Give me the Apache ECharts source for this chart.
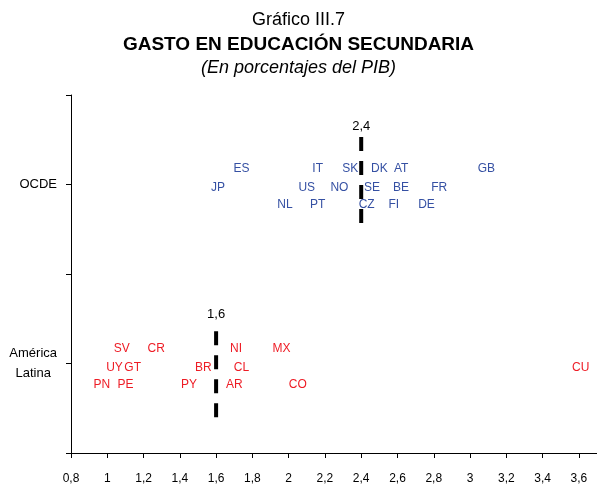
<!DOCTYPE html>
<html>
<head>
<meta charset="utf-8">
<script src="https://cdn.jsdelivr.net/npm/echarts@6/dist/echarts.min.js"></script>
<style>
html,body{margin:0;padding:0;background:#fff;}
#chart{width:597px;height:487px;}
</style>
</head>
<body>
<div id="chart"></div>
<script>
// ---- Data ----
const xTicks = [0.8, 1, 1.2, 1.4, 1.6, 1.8, 2, 2.2, 2.4, 2.6, 2.8, 3, 3.2, 3.4, 3.6];
const grupos = ['América Latina', 'OCDE'];
const grupoNivel = [1, 3];

const ocdePaises = ['ES','IT','SK','DK','AT','GB','JP','US','NO','SE','BE','FR','NL','PT','CZ','FI','DE'];
const ocdeGasto  = [1.74,2.16,2.34,2.50,2.62,3.09,1.61,2.10,2.28,2.46,2.62,2.83,1.98,2.16,2.43,2.58,2.76];
const ocdeFila   = [3.18,3.18,3.18,3.18,3.18,3.18,2.96,2.96,2.96,2.96,2.96,2.96,2.77,2.77,2.77,2.77,2.77];

const alPaises = ['SV','CR','NI','MX','UY','GT','BR','CL','CU','PN','PE','PY','AR','CO'];
const alGasto  = [1.08,1.27,1.71,1.96,1.04,1.14,1.53,1.74,3.61,0.97,1.10,1.45,1.70,2.05];
const alFila   = [1.17,1.17,1.17,1.17,0.95,0.95,0.95,0.95,0.95,0.76,0.76,0.76,0.76,0.76];

const promedios = [2.4, 1.6];            // OCDE, América Latina
const promedioTramo = [[3.53, 2.56], [1.36, 0.39]];
const promedioEtiquetaY = [3.65, 1.55];

// ---- Helpers ----
const fmt = v => String(+(+v).toFixed(1)).replace('.', ',');
const pts = (names, xs, ys) => names.map((n, i) => ({ name: n, value: [xs[i], ys[i]] }));

const FONT = 'Liberation Sans, Arial, Helvetica, sans-serif';
const BLUE = '#3550a3';
const RED = '#ee1c25';

const chart = echarts.init(document.getElementById('chart'), null, { renderer: 'canvas' });

const labelSeries = (names, xs, ys, color) => ({
  type: 'scatter',
  data: pts(names, xs, ys),
  symbolSize: 0,
  silent: true,
  itemStyle: { opacity: 1, color: color },
  label: {
    show: true, position: 'inside', formatter: '{b}',
    color: color, fontSize: 12, fontFamily: FONT, opacity: 1
  }
});

const promedioLines = promedios.map((p, i) => ({
  type: 'line',
  data: [[p, promedioTramo[i][0]], [p, promedioTramo[i][1]]],
  symbol: 'none',
  silent: true,
  lineStyle: { color: '#000', width: 4, type: [14, 10], cap: 'butt', opacity: 1 },
  z: 1
}));

const promedioLabels = {
  type: 'scatter',
  symbolSize: 0,
  silent: true,
  itemStyle: { opacity: 1, color: '#000' },
  data: promedios.map((p, i) => ({ value: [p, promedioEtiquetaY[i]] })),
  label: {
    show: true, position: 'inside',
    formatter: d => fmt(d.value[0]),
    color: '#000', fontSize: 13, fontFamily: FONT, opacity: 1
  }
};

chart.setOption({
  animation: false,
  backgroundColor: '#fff',
  title: [
    { text: 'Gráfico III.7', left: 'center', top: 11, padding: 0,
      textStyle: { fontSize: 18, fontWeight: 'normal', color: '#000', fontFamily: FONT } },
    { text: 'GASTO EN EDUCACIÓN SECUNDARIA', left: 'center', top: 35, padding: 0,
      textStyle: { fontSize: 19, fontWeight: 'bold', color: '#000', fontFamily: FONT } },
    { text: '(En porcentajes del PIB)', left: 'center', top: 59, padding: 0,
      textStyle: { fontSize: 18, fontWeight: 'normal', fontStyle: 'italic', color: '#000', fontFamily: FONT } }
  ],
  grid: { left: 71, right: 0, top: 95, bottom: 34, containLabel: false },
  xAxis: {
    type: 'value', min: 0.8, max: 3.7, interval: 0.2,
    axisLine: { show: true, lineStyle: { color: '#000', width: 1 } },
    axisTick: { show: true, length: 5, lineStyle: { color: '#000' } },
    splitLine: { show: false },
    axisLabel: {
      margin: 20, color: '#000', fontSize: 12, fontFamily: FONT,
      showMaxLabel: false,
      formatter: v => xTicks.some(t => Math.abs(t - v) < 1e-6) ? fmt(v) : ''
    }
  },
  yAxis: {
    type: 'value', min: 0, max: 4, interval: 1,
    axisLine: { show: true, lineStyle: { color: '#000', width: 1 } },
    axisTick: { show: true, length: 5, lineStyle: { color: '#000' } },
    splitLine: { show: false },
    axisLabel: {
      margin: 14, color: '#000', fontSize: 13, fontFamily: FONT,
      showMinLabel: true, showMaxLabel: true,
      formatter: v => {
        const i = grupoNivel.indexOf(v);
        if (i < 0) return '';
        const parts = grupos[i].split(' ');
        if (parts.length === 1) return grupos[i];
        return '{a|' + parts[0] + '}\n{b|' + parts.slice(1).join(' ') + '}';
      },
      rich: {
        a: { fontSize: 13, fontFamily: FONT, color: '#000', lineHeight: 20 },
        b: { fontSize: 13, fontFamily: FONT, color: '#000', lineHeight: 20, align: 'center' }
      }
    }
  },
  series: [
    ...promedioLines,
    promedioLabels,
    labelSeries(ocdePaises, ocdeGasto, ocdeFila, BLUE),
    labelSeries(alPaises, alGasto, alFila, RED)
  ]
});
</script>
</body>
</html>
